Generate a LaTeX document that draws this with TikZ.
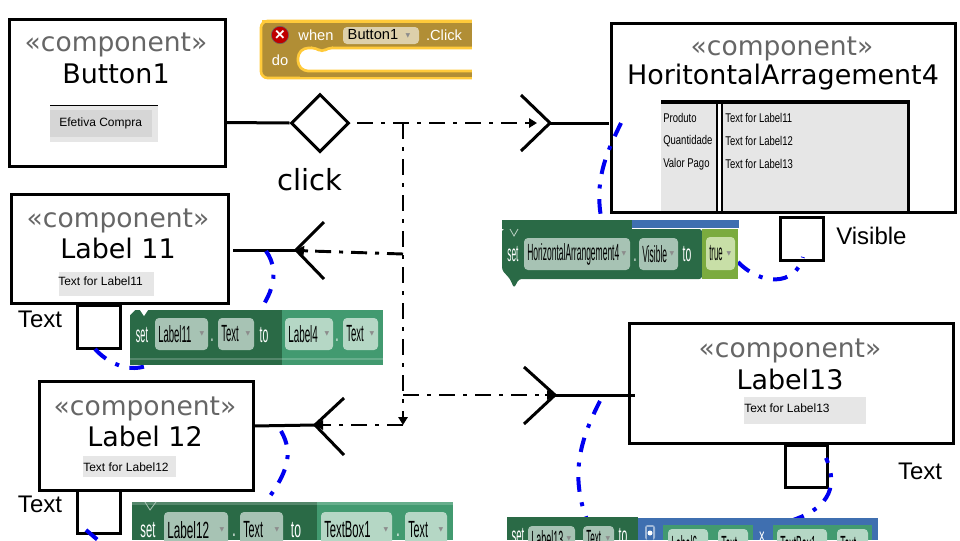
\documentclass[tikz,border=0pt]{standalone}
\usepackage{fontspec}
\usepackage{graphicx}
\setmainfont{DejaVu Sans}
\newfontfamily\arialf{Liberation Sans}
\newfontfamily\djvf{DejaVu Sans}
\usetikzlibrary{arrows.meta,shapes.geometric}
\definecolor{stereo}{HTML}{666666}
\definecolor{dkgreen}{HTML}{2A6A46}
\definecolor{ltgreen}{HTML}{429A70}
\definecolor{pilldk}{HTML}{A7C3B4}
\definecolor{pilllt}{HTML}{B5D7C5}
\definecolor{blockblue}{HTML}{3F6FB0}
\definecolor{truegreen}{HTML}{7BAB3E}
\definecolor{truepill}{HTML}{C8DFA7}
\definecolor{gold}{HTML}{B18E35}
\definecolor{goldedge}{HTML}{FFCA3A}
\definecolor{goldpill}{HTML}{DDD0AB}
\definecolor{imgbg}{HTML}{E6E6E6}
\definecolor{bluedash}{HTML}{0000F0}
\tikzset{
  compbox/.style={draw=black,line width=2.25pt,fill=white,line join=miter},
  stereotxt/.style={inner sep=0pt,text=stereo,font=\fontsize{19.9}{20}\selectfont},
  nametxt/.style={inner sep=0pt,font=\fontsize{20.2}{21}\selectfont},
  lbltxt/.style={inner sep=0pt,font=\arialf\fontsize{18}{19}\selectfont},
  smalltxt/.style={inner sep=0pt,anchor=west,font=\arialf\fontsize{9}{10}\selectfont},
  smallcond/.style={smalltxt,font=\arialf\fontsize{9.5}{10}\selectfont},
  assoc/.style={line width=2.25pt,line cap=butt},
  flow/.style={line width=2.2pt,dash pattern=on 12pt off 6pt on 3pt off 6pt},
  flowtip/.style={line width=2.2pt,-{Triangle[length=6pt,width=7pt]}},
  bluearc/.style={draw=bluedash,line width=3pt,dash pattern=on 11pt off 8pt on 3pt off 8pt},
  pillbox/.style={rounded corners=3pt,draw=none},
  blocktxt/.style={inner sep=0pt,text=white,font=\arialf\fontsize{13}{14}\selectfont},
  goldtxt/.style={inner sep=0pt,text=white,font=\arialf\fontsize{11}{12}\selectfont},
  pilltxt/.style={inner sep=0pt,anchor=west,text=black,font=\arialf\fontsize{13}{14}\selectfont},
  droptxt/.style={inner sep=0pt,text=black!45,font=\djvf\fontsize{4.5}{5}\selectfont},
}
% pill: name, x1, y1, x2, y2, colour, text, xscale
\newcommand{\mypill}[8]{%
  \fill[pillbox,#6] (#2,#3) rectangle (#4,#5);
  \node[pilltxt] (#1) at ({#2+3},{(#3+#5)/2}) {\scalebox{#8}[1.35]{#7}};
  \node[droptxt] (#1d) at ({#4-6},{(#3+#5)/2}) {▼};}
\newcommand{\myword}[5]{\node[blocktxt] (#1) at (#2,#3) {\scalebox{#5}[1.35]{#4}};}
\begin{document}
\begin{tikzpicture}[x=0.75pt,y=-0.75pt]
\useasboundingbox (0,0) rectangle (960,540);
% component boxes
\draw[compbox] (9,19) rectangle (225,166);
\draw[compbox] (11,194) rectangle (228,303);
\draw[compbox] (39,381) rectangle (253,490);
\draw[compbox] (611,23) rectangle (955,212);
\draw[compbox] (629,323) rectangle (953,443);
\draw[compbox] (77,305) rectangle (120,348);
\draw[compbox] (77,490) rectangle (120,533);
\draw[compbox] (780,217) rectangle (823,260);
\draw[compbox] (785,445) rectangle (827,487);
% Button1 text and image
\node[stereotxt] (s1) at (116,44.5) {«component»};
\node[nametxt] (n1) at (116,74) {Button1};
\fill[imgbg] (50,105) rectangle (158,142);
\fill[black!16] (50,110) rectangle (152,137);
\draw[line width=1.2pt] (50,105.5) -- (158,105.5);
\node[smalltxt] (i1) at (59,123) {Efetiva Compra};
% Label 11
\node[stereotxt] (s2) at (118,220.5) {«component»};
\node[nametxt] (n2) at (118,248.5) {Label 11};
\fill[imgbg] (59,272) rectangle (154,296);
\node[smalltxt] (i2) at (58,281) {Text for Label11};
% Label 12
\node[stereotxt] (s3) at (145,408.5) {«component»};
\node[nametxt] (n3) at (145,436.5) {Label 12};
\fill[imgbg] (83,456) rectangle (176,477);
\node[smalltxt] (i3) at (83,467) {Text for Label12};
% Label 13
\node[stereotxt] (s4) at (790,350.5) {«component»};
\node[nametxt] (n4) at (790,379.5) {Label13};
\fill[imgbg] (744,397) rectangle (866,424);
\node[smalltxt] (i4) at (744,408) {Text for Label13};
% Horizontal arrangement
\node[stereotxt] (s5) at (782,48.5) {«component»};
\node[nametxt] (n5) at (783,77.5) {HoritontalArragement4};
\fill[imgbg] (661,100) rectangle (910,212);
\fill[black] (661,100) rectangle (910,104);
\fill[black] (907,100) rectangle (910,212);
\fill[black] (716,100) rectangle (723,212);
\fill[white] (718,104) rectangle (721,212);
\draw[line width=2.25pt] (661,212) -- (910,212);
\node[smallcond] (h1) at (663,118) {\scalebox{0.75}[1]{Produto}};
\node[smallcond] (h2) at (663,141) {\scalebox{0.75}[1]{Quantidade}};
\node[smallcond] (h3) at (663,164) {\scalebox{0.75}[1]{Valor Pago}};
\node[smallcond] (h4) at (725,118) {\scalebox{0.75}[1]{Text for Label11}};
\node[smallcond] (h5) at (725,141) {\scalebox{0.75}[1]{Text for Label12}};
\node[smallcond] (h6) at (725,164) {\scalebox{0.75}[1]{Text for Label13}};
% labels
\node[nametxt,font=\fontsize{21.8}{22}\selectfont] (clk) at (310,180) {click};
\node[lbltxt] (t1) at (40,319) {Text};
\node[lbltxt] (t2) at (40,504) {Text};
\node[lbltxt] (t3) at (920,471) {Text};
\node[lbltxt,anchor=west] (vis) at (836,236) {Visible};
% ports and sockets
\node[diamond,draw=black,line width=2.25pt,fill=white,minimum width=43.5pt,minimum height=43.5pt,inner sep=0pt] (dia) at (320,123) {};
\coordinate (b1e) at (225,122.5);
\draw[assoc] (b1e) -- (dia.west);
\coordinate (sa) at (550,123); \coordinate (sb) at (296,250);
\coordinate (sc) at (315,425); \coordinate (sd) at (555,395);
\coordinate (sae) at (609,123); \coordinate (sbe) at (233,250);
\coordinate (sce) at (253,426); \coordinate (sde) at (635,395);
\draw[assoc] (521,95) -- (sa) -- (521,151);
\draw[assoc] (sa) -- (sae);
\draw[assoc] (324,222) -- (sb) -- (324,279);
\draw[assoc] (sb) -- (sbe);
\draw[assoc] (344,398) -- (sc) -- (344,455);
\draw[assoc] (sc) -- (sce);
\draw[assoc] (524,367) -- (sd) -- (524,424);
\draw[assoc] (sd) -- (sde);
% dependency flows
\coordinate (fs) at (357,123);
\coordinate (j1) at (403,123);
\coordinate (j2) at (403,254);
\coordinate (j3) at (403,395);
\coordinate (j4) at (403,425);
\coordinate (satip) at (537,123);
\draw[flow] (fs) -- (527,123);
\draw[flowtip] (527,123) -- (satip);
\draw[flow] (j1) -- (403,416);
\draw[flowtip] (403,416) -- (j4);
\draw[flow] (j2) -- (310,251);
\draw[flowtip] (308,251) -- (sb);
\draw[flow] (j3) -- (545,395);
\draw[flowtip] (545,395) -- (sd);
\draw[flow] (j4) -- (328,425);
\draw[flowtip] (328,425) -- (sc);
% blue arcs
\draw[bluearc] (621,123) .. controls (608,150) and (593,180) .. (602,222);
\draw[bluearc] (738,262) .. controls (760,285) and (795,287) .. (803,257);
\draw[bluearc] (95,349) .. controls (112,368) and (145,380) .. (168,349);
\draw[bluearc] (266,251) .. controls (283,275) and (268,302) .. (252,320);
\draw[bluearc] (281,431) .. controls (295,455) and (285,475) .. (268,499);
\draw[bluearc] (86,530) -- (99,541);
\draw[bluearc] (600,401) .. controls (580,440) and (570,475) .. (587,520);
\draw[bluearc] (790,521) .. controls (825,510) and (840,490) .. (826,458);
% when block
\draw[draw=goldedge,fill=gold,line width=2pt,rounded corners=5pt] (480,78) -- (261,78) -- (261,21) -- (480,21);
\fill[gold] (300,22) rectangle (472,77);
\fill[white] (472,18) rectangle (485,80);
\draw[goldedge,line width=2pt,fill=white,rounded corners=3pt] (472,48) -- (328,48) -- (322,52) -- (316,48) -- (304,48) -- (298,54) -- (298,65) -- (304,71) -- (472,71);
\fill[white] (472,45) rectangle (476,74);
\draw[goldedge,line width=2pt] (262,21.5) -- (472,21.5);
\node[circle,fill=red!75!black,draw=black!60,line width=.4pt,inner sep=0pt,minimum size=13pt,text=white,font=\arialf\bfseries\fontsize{13}{13}\selectfont] (xmark) at (280,35) {×};
\node[goldtxt] (w1) at (316,35) {when};
\fill[pillbox,fill=goldpill] (343,27) rectangle (419,44);
\node[pilltxt,font=\arialf\fontsize{11}{12}\selectfont,anchor=center] (w2) at (373,35) {Button1};
\node[droptxt] (w2d) at (408,36) {▼};
\node[goldtxt] (w3) at (444,35) {.Click};
\node[goldtxt] (w4) at (280,60) {do};
% block visible
\fill[dkgreen] (502,220) rectangle (632,229);
\fill[blockblue] (632,220) rectangle (739,228);
\fill[dkgreen,rounded corners=2pt] (502,229) -- (702,229) -- (702,279) -- (519,279) -- (514,288) -- (510,279) -- (502,270) -- cycle;
\fill[truegreen] (702,229) rectangle (738,279);
\draw[white!70!dkgreen,line width=.6pt] (510,229) -- (514,236) -- (518,229);
\mypill{p1}{524}{238}{630}{270}{fill=pilldk}{HorizontalArrangement4}{0.49}
\mypill{p2}{639}{238}{678}{270}{fill=pilldk}{Visible}{0.49}
\mypill{p3}{706}{237}{735}{270}{fill=truepill}{true}{0.45}
\myword{x1}{513}{254}{set}{0.48}
\myword{x2}{635}{260}{.}{0.6}
\myword{x3}{687}{254}{to}{0.6}
% block label11
\fill[dkgreen] (130,310) rectangle (282,365);
\fill[ltgreen] (282,310) rectangle (383,365);
\fill[white] (130,310) -- (135,310) -- (130,315) -- cycle;
\fill[white] (140,310) -- (148,310) -- (144,316) -- cycle;
\fill[white,opacity=.2] (130,358) rectangle (383,360);
\mypill{p4}{155}{318}{208}{350}{fill=pilldk}{Label11}{0.55}
\mypill{p5}{218}{318}{254}{350}{fill=pilldk}{Text}{0.55}
\mypill{p6}{285}{318}{333}{350}{fill=pilllt}{Label4}{0.57}
\mypill{p7}{343}{318}{378}{350}{fill=pilllt}{Text}{0.55}
\myword{x4}{142}{335}{set}{0.52}
\myword{x5}{212}{340}{.}{0.6}
\myword{x6}{264}{335}{to}{0.6}
\myword{x7}{337}{340}{.}{0.6}
% block label12
\fill[dkgreen] (132,502) rectangle (317,540);
\fill[ltgreen] (317,502) rectangle (453,540);
\fill[white,opacity=.2] (132,502) rectangle (453,505);
\draw[white!60!dkgreen,line width=.6pt] (145,502) -- (150,510) -- (156,502);
\mypill{p8}{164}{512}{228}{548}{fill=pilldk}{Label12}{0.68}
\mypill{p9}{240}{512}{283}{548}{fill=pilldk}{Text}{0.62}
\mypill{p10}{321}{512}{392}{548}{fill=pilllt}{TextBox1}{0.65}
\mypill{p11}{405}{512}{447}{548}{fill=pilllt}{Text}{0.62}
\myword{x8}{148}{530}{set}{0.65}
\myword{x9}{234}{535}{.}{0.7}
\myword{x10}{296}{530}{to}{0.7}
\myword{x11}{398}{535}{.}{0.7}
% block label13
\fill[dkgreen] (507,517) rectangle (638,540);
\fill[blockblue] (638,518) rectangle (878,540);
\fill[white!50!blockblue,rounded corners=2pt] (645,525) rectangle (655,540);
\fill[blockblue] (647,527) rectangle (653,540);
\fill[white] (650,533) circle[radius=2.5];
\fill[ltgreen] (663,525) rectangle (753,540);
\fill[ltgreen] (773,525) rectangle (872,540);
\mypill{p12}{528}{526}{575}{552}{fill=pilldk}{Label13}{0.52}
\mypill{p13}{583}{526}{614}{552}{fill=pilldk}{Text}{0.47}
\mypill{p14}{668}{529}{708}{560}{fill=pilllt}{Label6}{0.5}
\mypill{p15}{718}{529}{748}{560}{fill=pilllt}{Text}{0.5}
\mypill{p16}{777}{529}{827}{560}{fill=pilllt}{TextBox1}{0.5}
\mypill{p17}{837}{529}{868}{560}{fill=pilllt}{Text}{0.5}
\myword{x12}{518}{536}{set}{0.55}
\myword{x13}{623}{536}{to}{0.6}
\myword{x14}{762}{538}{×}{0.6}
\end{tikzpicture}
\end{document}
